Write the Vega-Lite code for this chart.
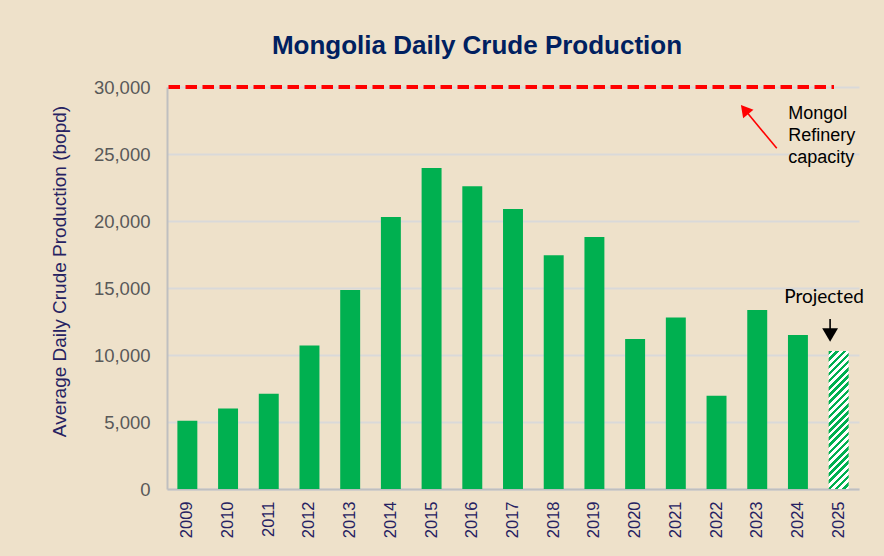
{
  "$schema": "https://vega.github.io/schema/vega-lite/v6.json",
  "width": 692,
  "height": 402,
  "autosize": {"type": "none"},
  "padding": {"left": 167, "top": 87, "right": 25, "bottom": 67},
  "background": "#EEE1CA",
  "title": {
    "text": "Mongolia Daily Crude Production",
    "font": "Liberation Sans",
    "fontSize": 26,
    "fontWeight": "bold",
    "color": "#002060",
    "anchor": "middle",
    "frame": "group",
    "dx": -36,
    "baseline": "alphabetic",
    "offset": -2
  },
  "config": {
    "view": {"stroke": null}
  },
  "encoding": {
    "y": {
      "field": "value",
      "type": "quantitative",
      "scale": {"domain": [0, 30000], "nice": false},
      "axis": {
        "values": [0, 5000, 10000, 15000, 20000, 25000, 30000],
        "format": ",.0f",
        "labelFont": "Liberation Sans",
        "labelFontSize": 18.5,
        "labelColor": "#595959",
        "labelPadding": 17,
        "ticks": false,
        "domainColor": "#BFBFBF",
        "domainWidth": 2,
        "gridColor": "#D9D9D9",
        "gridWidth": 2,
        "title": "Average Daily Crude Production (bopd)",
        "titleFont": "Liberation Sans",
        "titleFontSize": 19,
        "titleFontWeight": "normal",
        "titleColor": "#262262",
        "titleX": -108,
        "titleY": 184,
        "titleAngle": -90,
        "titleBaseline": "middle",
        "titleAlign": "center"
      }
    }
  },
  "layer": [
    {
      "data": {
        "values": [
          {"year": "2009", "value": 5100, "status": "Actual"},
          {"year": "2010", "value": 6000, "status": "Actual"},
          {"year": "2011", "value": 7100, "status": "Actual"},
          {"year": "2012", "value": 10700, "status": "Actual"},
          {"year": "2013", "value": 14850, "status": "Actual"},
          {"year": "2014", "value": 20300, "status": "Actual"},
          {"year": "2015", "value": 23950, "status": "Actual"},
          {"year": "2016", "value": 22600, "status": "Actual"},
          {"year": "2017", "value": 20900, "status": "Actual"},
          {"year": "2018", "value": 17450, "status": "Actual"},
          {"year": "2019", "value": 18800, "status": "Actual"},
          {"year": "2020", "value": 11200, "status": "Actual"},
          {"year": "2021", "value": 12800, "status": "Actual"},
          {"year": "2022", "value": 6950, "status": "Actual"},
          {"year": "2023", "value": 13350, "status": "Actual"},
          {"year": "2024", "value": 11500, "status": "Actual"},
          {"year": "2025", "value": 10300, "status": "Projected"}
        ]
      },
      "encoding": {
        "x": {
          "field": "year",
          "type": "ordinal",
          "scale": {"paddingInner": 0.51, "paddingOuter": 0.255},
          "axis": {
            "title": null,
            "labelAngle": -90,
            "labelFont": "Liberation Sans",
            "labelFontSize": 16.5,
            "labelColor": "#262262",
            "labelPadding": 12,
            "ticks": false,
            "domainColor": "#BFBFBF",
            "domainWidth": 2,
            "grid": false
          }
        }
      },
      "layer": [
        {
          "transform": [{"filter": "datum.status == 'Actual'"}],
          "mark": {"type": "bar", "color": "#00B050"}
        },
        {
          "transform": [{"filter": "datum.status == 'Projected'"}],
          "mark": {
            "type": "bar",
            "color": {
              "gradient": "linear",
              "x1": 0, "y1": 0, "x2": 0.16205, "y2": 1.1211,
              "stops": [
                {"offset": 0, "color": "#00B050"}, {"offset": 0.02273, "color": "#00B050"}, {"offset": 0.02273, "color": "#FFFFFF"}, {"offset": 0.04545, "color": "#FFFFFF"},
                {"offset": 0.04545, "color": "#00B050"}, {"offset": 0.06818, "color": "#00B050"}, {"offset": 0.06818, "color": "#FFFFFF"}, {"offset": 0.09091, "color": "#FFFFFF"},
                {"offset": 0.09091, "color": "#00B050"}, {"offset": 0.11364, "color": "#00B050"}, {"offset": 0.11364, "color": "#FFFFFF"}, {"offset": 0.13636, "color": "#FFFFFF"},
                {"offset": 0.13636, "color": "#00B050"}, {"offset": 0.15909, "color": "#00B050"}, {"offset": 0.15909, "color": "#FFFFFF"}, {"offset": 0.18182, "color": "#FFFFFF"},
                {"offset": 0.18182, "color": "#00B050"}, {"offset": 0.20455, "color": "#00B050"}, {"offset": 0.20455, "color": "#FFFFFF"}, {"offset": 0.22727, "color": "#FFFFFF"},
                {"offset": 0.22727, "color": "#00B050"}, {"offset": 0.25, "color": "#00B050"}, {"offset": 0.25, "color": "#FFFFFF"}, {"offset": 0.27273, "color": "#FFFFFF"},
                {"offset": 0.27273, "color": "#00B050"}, {"offset": 0.29545, "color": "#00B050"}, {"offset": 0.29545, "color": "#FFFFFF"}, {"offset": 0.31818, "color": "#FFFFFF"},
                {"offset": 0.31818, "color": "#00B050"}, {"offset": 0.34091, "color": "#00B050"}, {"offset": 0.34091, "color": "#FFFFFF"}, {"offset": 0.36364, "color": "#FFFFFF"},
                {"offset": 0.36364, "color": "#00B050"}, {"offset": 0.38636, "color": "#00B050"}, {"offset": 0.38636, "color": "#FFFFFF"}, {"offset": 0.40909, "color": "#FFFFFF"},
                {"offset": 0.40909, "color": "#00B050"}, {"offset": 0.43182, "color": "#00B050"}, {"offset": 0.43182, "color": "#FFFFFF"}, {"offset": 0.45455, "color": "#FFFFFF"},
                {"offset": 0.45455, "color": "#00B050"}, {"offset": 0.47727, "color": "#00B050"}, {"offset": 0.47727, "color": "#FFFFFF"}, {"offset": 0.5, "color": "#FFFFFF"},
                {"offset": 0.5, "color": "#00B050"}, {"offset": 0.52273, "color": "#00B050"}, {"offset": 0.52273, "color": "#FFFFFF"}, {"offset": 0.54545, "color": "#FFFFFF"},
                {"offset": 0.54545, "color": "#00B050"}, {"offset": 0.56818, "color": "#00B050"}, {"offset": 0.56818, "color": "#FFFFFF"}, {"offset": 0.59091, "color": "#FFFFFF"},
                {"offset": 0.59091, "color": "#00B050"}, {"offset": 0.61364, "color": "#00B050"}, {"offset": 0.61364, "color": "#FFFFFF"}, {"offset": 0.63636, "color": "#FFFFFF"},
                {"offset": 0.63636, "color": "#00B050"}, {"offset": 0.65909, "color": "#00B050"}, {"offset": 0.65909, "color": "#FFFFFF"}, {"offset": 0.68182, "color": "#FFFFFF"},
                {"offset": 0.68182, "color": "#00B050"}, {"offset": 0.70455, "color": "#00B050"}, {"offset": 0.70455, "color": "#FFFFFF"}, {"offset": 0.72727, "color": "#FFFFFF"},
                {"offset": 0.72727, "color": "#00B050"}, {"offset": 0.75, "color": "#00B050"}, {"offset": 0.75, "color": "#FFFFFF"}, {"offset": 0.77273, "color": "#FFFFFF"},
                {"offset": 0.77273, "color": "#00B050"}, {"offset": 0.79545, "color": "#00B050"}, {"offset": 0.79545, "color": "#FFFFFF"}, {"offset": 0.81818, "color": "#FFFFFF"},
                {"offset": 0.81818, "color": "#00B050"}, {"offset": 0.84091, "color": "#00B050"}, {"offset": 0.84091, "color": "#FFFFFF"}, {"offset": 0.86364, "color": "#FFFFFF"},
                {"offset": 0.86364, "color": "#00B050"}, {"offset": 0.88636, "color": "#00B050"}, {"offset": 0.88636, "color": "#FFFFFF"}, {"offset": 0.90909, "color": "#FFFFFF"},
                {"offset": 0.90909, "color": "#00B050"}, {"offset": 0.93182, "color": "#00B050"}, {"offset": 0.93182, "color": "#FFFFFF"}, {"offset": 0.95455, "color": "#FFFFFF"},
                {"offset": 0.95455, "color": "#00B050"}, {"offset": 0.97727, "color": "#00B050"}, {"offset": 0.97727, "color": "#FFFFFF"}, {"offset": 1, "color": "#FFFFFF"}
              ]
            }
          }
        }
      ]
    },
    {
      "encoding": {
        "x": {
          "field": "pos",
          "type": "quantitative",
          "scale": {"domain": [-0.5, 16.5], "nice": false, "zero": false},
          "axis": null
        }
      },
      "layer": [
        {
          "data": {"values": [{"pos": -0.463, "pos2": 15.886, "value": 30000}]},
          "mark": {"type": "rule", "color": "#FF0000", "strokeWidth": 4, "strokeDash": [11.5, 5.5]},
          "encoding": {"x2": {"field": "pos2"}}
        },
        {
          "data": {"values": [{"pos": 14.48, "value": 25425, "pos2": 13.69, "value2": 28321}]},
          "mark": {"type": "rule", "color": "#FF0000", "strokeWidth": 1.6},
          "encoding": {"x2": {"field": "pos2"}, "y2": {"field": "value2"}}
        },
        {
          "data": {"values": [{"pos": 13.69, "value": 28321}]},
          "mark": {"type": "point", "shape": "triangle-up", "filled": true, "color": "#FF0000", "opacity": 1, "size": 180, "angle": -39.5}
        },
        {
          "data": {"values": [{"pos": 14.76, "value": 27590, "label": "Mongol\nRefinery\ncapacity"}]},
          "mark": {"type": "text", "align": "left", "baseline": "alphabetic", "font": "Liberation Sans", "fontSize": 18, "lineBreak": "\n", "lineHeight": 22, "color": "#000000"},
          "encoding": {"text": {"field": "label"}}
        },
        {
          "data": {"values": [{"pos": 15.64, "value": 13903, "label": "Projected"}]},
          "mark": {"type": "text", "align": "center", "baseline": "alphabetic", "font": "Lato", "fontSize": 19, "color": "#000000"},
          "encoding": {"text": {"field": "label"}}
        },
        {
          "data": {"values": [{"pos": 15.79, "value": 12687, "value2": 11493}]},
          "mark": {"type": "rule", "color": "#000000", "strokeWidth": 1.6},
          "encoding": {"y2": {"field": "value2"}}
        },
        {
          "data": {"values": [{"pos": 15.79, "value": 11493}]},
          "mark": {"type": "point", "shape": "triangle-down", "filled": true, "color": "#000000", "opacity": 1, "size": 250}
        }
      ]
    }
  ],
  "resolve": {"scale": {"x": "independent"}}
}
